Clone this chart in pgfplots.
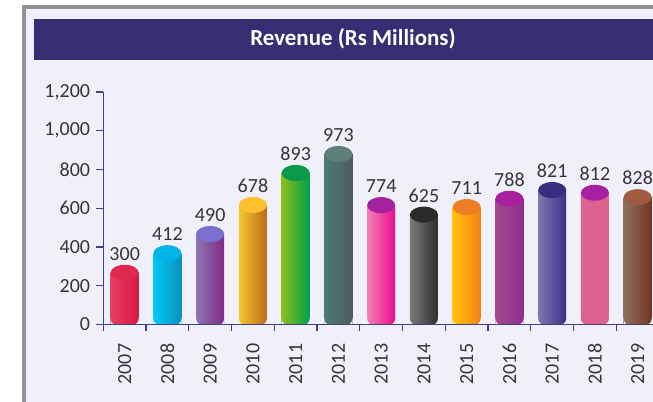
\documentclass[border=0pt]{standalone}
\usepackage{fontspec}
\setmainfont{Carlito}
\usepackage{pgfplots}
\pgfplotsset{compat=1.18}
\definecolor{panelbg}{HTML}{F0F0FA}
\definecolor{navy}{HTML}{342E72}
\definecolor{axisc}{HTML}{433E88}
\definecolor{txt}{HTML}{34343C}
% round off the two lower corners of a bar, in the panel colour
\pgfdeclareplotmark{cornermask}{%
  \pgfpathmoveto{\pgfpoint{-10.6pt}{-0.2pt}}\pgfpathlineto{\pgfpoint{-6pt}{-0.2pt}}%
  \pgfpathcurveto{\pgfpoint{-8.5pt}{-0.2pt}}{\pgfpoint{-10.6pt}{1.5pt}}{\pgfpoint{-10.6pt}{5pt}}%
  \pgfpathclose
  \pgfpathmoveto{\pgfpoint{10.6pt}{-0.2pt}}\pgfpathlineto{\pgfpoint{6pt}{-0.2pt}}%
  \pgfpathcurveto{\pgfpoint{8.5pt}{-0.2pt}}{\pgfpoint{10.6pt}{1.5pt}}{\pgfpoint{10.6pt}{5pt}}%
  \pgfpathclose
  \pgfusepathqfill}
\pgfdeclareplotmark{captop}{%
  \pgfpathellipse{\pgfpointorigin}{\pgfpoint{10.5pt}{0pt}}{\pgfpoint{0pt}{6pt}}%
  \pgfusepathqfill}
% #1 position, #2 drawn height (as measured on the picture), #3 printed value, #4 #5 side colours, #6 top colour
\newcommand{\cyl}[6]{%
  \definecolor{cL#1}{HTML}{#4}\definecolor{cR#1}{HTML}{#5}\definecolor{cT#1}{HTML}{#6}%
  \addplot[ybar,bar shift=0pt,bar width=21pt,draw=none,left color=cL#1,right color=cR#1,forget plot] coordinates {(#1,#2)};
  \addplot[only marks,mark=captop,mark options={fill=cT#1,draw=none},point meta=explicit,
    nodes near coords,
    nodes near coords style={font=\fontsize{15}{15}\selectfont,text=txt,anchor=center,yshift=14.25pt,inner sep=0pt},
    forget plot] coordinates {(#1,#2) [#3]};
}
\begin{document}
\begin{tikzpicture}[x=0.75pt,y=0.75pt]
\useasboundingbox (0,0) rectangle (653,402);
\clip (0,0) rectangle (653,402);
\fill[white] (0,0) rectangle (653,402);
\fill[gray!85] (22,-2) rectangle (660,397);
\fill[panelbg] (26,-2) rectangle (660,393);
\fill[navy] (34,342) rectangle (660,383);
\node[text=white,font=\fontsize{17.2}{17.2}\selectfont\bfseries] at (353,363) {Revenue (Rs Millions)};
\begin{axis}[
  at={(77.475pt,58.125pt)},anchor=south west,
  scale only axis,width=416.81pt,height=174.375pt,
  xmin=-0.5,xmax=12.5,ymin=0,ymax=1200,
  clip=false,
  axis x line*=bottom,axis y line*=left,
  axis line style={axisc,line width=0.9pt,-},
  axis on top,
  /pgf/number format/assume math mode=true,
  /pgf/number format/1000 sep={,},
  ytick={0,200,...,1200},
  xtick={-0.5,0.5,1.5,2.5,3.5,4.5,5.5,6.5,7.5,8.5,9.5,10.5,11.5,12.5},
  x tick label as interval,
  xticklabels={2007,2008,2009,2010,2011,2012,2013,2014,2015,2016,2017,2018,2019},
  tick align=outside,
  major tick length=5.25pt,
  tick style={draw=axisc,line width=0.9pt},
  tick label style={font=\fontsize{15}{15}\selectfont,text=txt},
  xticklabel style={rotate=90,anchor=east,xshift=-9pt,inner sep=0pt},
  yticklabel style={inner sep=0pt,xshift=-4.5pt},
]
\cyl{0}{267}{300}{E5405E}{D8174A}{E0284F}
\cyl{1}{368}{412}{00C8F5}{0B90BD}{00B4E8}
\cyl{2}{467}{490}{8E75B5}{7F2A84}{7B6FD0}
\cyl{3}{617}{678}{F5C52A}{B96C1E}{FFC02E}
\cyl{4}{782}{893}{8FBC1E}{00A04A}{089A48}
\cyl{5}{880}{973}{4E7A74}{4E5A5E}{5F8078}
\cyl{6}{616}{774}{F080B5}{EC0C8C}{A322A0}
\cyl{7}{567}{625}{7A7A7A}{2E2E2E}{2A2A2A}
\cyl{8}{606}{711}{FFC20E}{F57F12}{EE7F22}
\cyl{9}{649}{788}{A8488F}{8B2F8F}{A820A0}
\cyl{10}{694}{821}{7D78AF}{3A3088}{352D7E}
\cyl{11}{680}{812}{E0608F}{DC6490}{A820A0}
\cyl{12}{657}{828}{8E7060}{73351F}{A05A40}
\addplot[only marks,mark=cornermask,mark options={fill=panelbg,draw=none},forget plot] coordinates
 {(0,0)(1,0)(2,0)(3,0)(4,0)(5,0)(6,0)(7,0)(8,0)(9,0)(10,0)(11,0)(12,0)};
\end{axis}
% axis line and the boundary ticks, on top of everything
\draw[axisc,line width=0.9pt] (103.3,77.5) -- (660,77.5);
\foreach \k in {0,...,12}
  \draw[axisc,line width=0.9pt] ({103.3+42.75*\k},77.5) -- +(0,-7);
\end{tikzpicture}
\end{document}
